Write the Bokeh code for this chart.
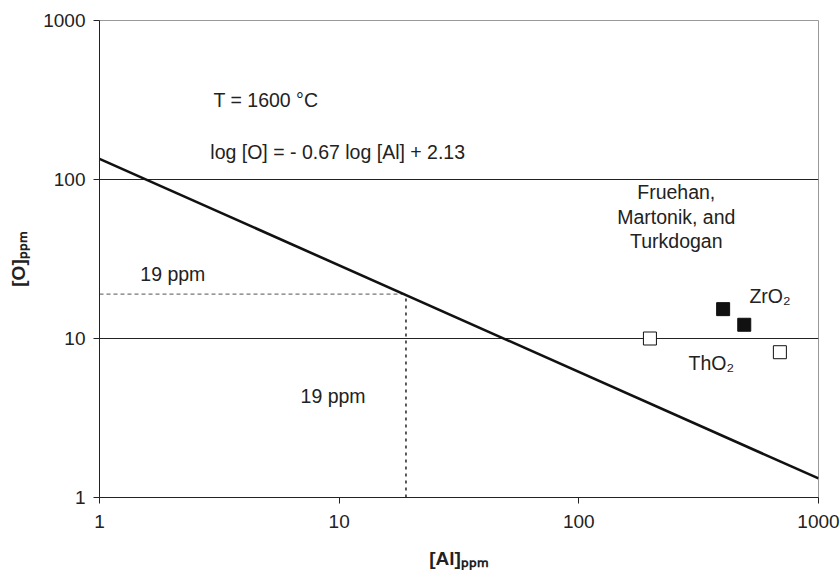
from bokeh.plotting import figure
from bokeh.models import Label, FixedTicker, NumeralTickFormatter, Range1d
from bokeh.embed import file_html
from bokeh.resources import INLINE

# ---- data ----
x_ticks = [1, 10, 100, 1000]
y_ticks = [1, 10, 100, 1000]
# fitted line: log[O] = -0.67 log[Al] + 2.13 (end points)
line_al = [1, 1000]
line_o = [134.9, 1.318]
# 19 ppm read-off
read_al = 19
read_o = 19
# Fruehan, Martonik and Turkdogan data
zro2_al = [400, 490]
zro2_o = [15.3, 12.2]
tho2_al = [198, 690]
tho2_o = [10.0, 8.2]

FONT = "Liberation Sans"
TXT = "#222222"

p = figure(width=840, height=578, x_axis_type="log", y_axis_type="log",
           x_range=Range1d(1, 1000), y_range=Range1d(1, 1000),
           output_backend="svg", toolbar_location=None,
           min_border_left=99, min_border_right=22, min_border_top=20, min_border_bottom=81)
p.background_fill_color = "white"
p.border_fill_color = "white"
p.outline_line_color = "#999999"
p.outline_line_width = 1

for ax, t in ((p.xaxis, x_ticks), (p.yaxis, y_ticks)):
    ax.ticker = FixedTicker(ticks=t)
    ax.formatter = NumeralTickFormatter(format="0")
    ax.major_tick_out = 6
    ax.major_tick_in = 0
    ax.minor_tick_line_color = None
    ax.axis_line_color = "#222222"
    ax.major_tick_line_color = "#222222"
    ax.major_label_text_font = FONT
    ax.major_label_text_font_size = "19px"
    ax.major_label_text_color = TXT
    ax.axis_label_text_font = FONT
    ax.axis_label_text_font_size = "19px"
    ax.axis_label_text_font_style = "bold"
    ax.axis_label_text_color = TXT
p.xaxis.major_label_standoff = 11
p.yaxis.major_label_standoff = 8
p.xaxis.axis_label = "[Al]ₚₚₘ"
p.yaxis.axis_label = "[O]ₚₚₘ"
p.xaxis.axis_label_standoff = 17
p.yaxis.axis_label_standoff = 11

p.xgrid.visible = False
p.ygrid.ticker = FixedTicker(ticks=[10, 100])
p.ygrid.grid_line_color = "#222222"
p.ygrid.grid_line_width = 1

# guide lines at 19 ppm
p.line([1, read_al], [read_o, read_o], line_color="#777777", line_width=1.2, line_dash="4 3")
p.line([read_al, read_al], [1, read_o], line_color="#000000", line_width=1.3, line_dash="3 4")

# fitted line
p.line(line_al, line_o, line_color="#111111", line_width=2.6)

# data points
p.scatter(tho2_al, tho2_o, marker="square", size=13, fill_color="white", line_color="#111111", line_width=1)
p.scatter(zro2_al, zro2_o, marker="square", size=13, fill_color="#111111", line_color="#111111", line_width=1)


def lab(x, y, text, size="19.5px", align="left", baseline="middle"):
    p.add_layout(Label(x=x, y=y, text=text, text_font=FONT, text_font_size=size,
                       text_align=align, text_baseline=baseline, text_color=TXT))


lab(2.99, 318, "T = 1600 °C")
lab(2.90, 148, "log [O] = - 0.67 log [Al] + 2.13")
lab(255, 84, "Fruehan,", align="center")
lab(255, 58.5, "Martonik, and", align="center")
lab(255, 40.8, "Turkdogan", align="center")
lab(515, 18.6, "ZrO₂")
lab(287, 6.97, "ThO₂")
lab(1.48, 25.6, "19 ppm")
lab(6.9, 4.38, "19 ppm")

open("out.html", "w").write(file_html(p, INLINE))
